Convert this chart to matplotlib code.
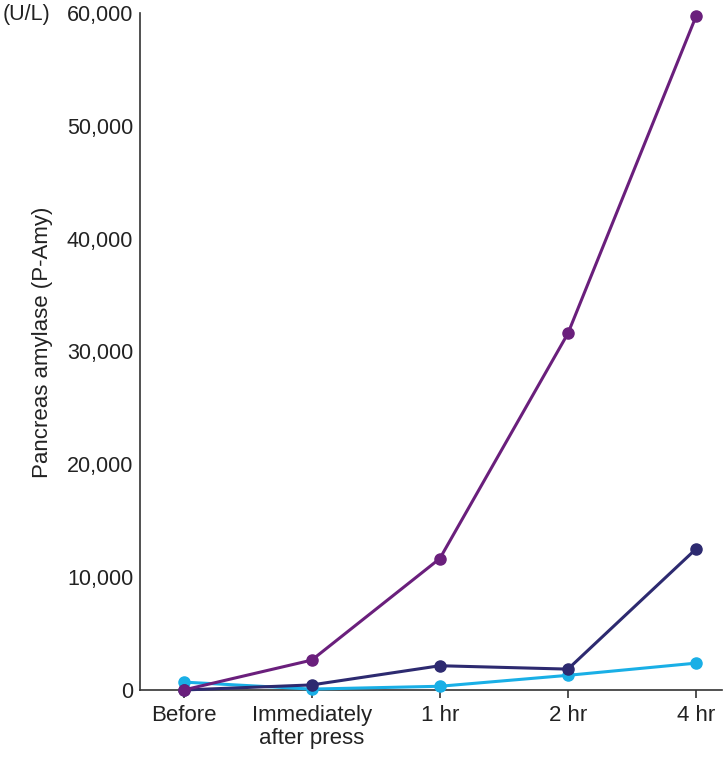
import matplotlib.pyplot as plt
import numpy as np

plt.rcParams['font.family'] = ['Liberation Sans', 'DejaVu Sans']

# Time points and amylase values (U/L)
times = ['Before', 'Immediately\nafter press', '1 hr', '2 hr', '4 hr']
purple_vals = [0, 2650, 11650, 31600, 59700]
navy_vals = [0, 450, 2150, 1850, 12500]
cyan_vals = [700, 80, 330, 1300, 2380]

yticks = [0, 10000, 20000, 30000, 40000, 50000, 60000]

fig = plt.figure(figsize=(7.26, 7.62), dpi=100)
ax = fig.add_axes([0.193, 0.0945, 0.801, 0.8885])

x = np.arange(len(times))
ax.plot(x, cyan_vals, color='#19afe6', lw=2.2, marker='o', ms=8, clip_on=False, zorder=3)
ax.plot(x, navy_vals, color='#2d2a70', lw=2.2, marker='o', ms=8, clip_on=False, zorder=4)
ax.plot(x, purple_vals, color='#6a1f7c', lw=2.2, marker='o', ms=8, clip_on=False, zorder=5)

ax.set_xlim(-0.34, 4.2)
ax.set_ylim(0, 60000)
ax.set_xticks(x)
ax.set_xticklabels(times, fontsize=16, color='#222222', linespacing=1.1)
ax.set_yticks(yticks)
ax.set_yticklabels([f'{v:,}' for v in yticks], fontsize=15.5, color='#222222')

for s in ['top', 'right']:
    ax.spines[s].set_visible(False)
for s in ['left', 'bottom']:
    ax.spines[s].set_color('#333333')
    ax.spines[s].set_linewidth(1.2)
ax.tick_params(axis='x', length=6, width=1.2, color='#333333', pad=5)
ax.tick_params(axis='y', length=0, pad=5)

ax.set_ylabel('Pancreas amylase (P-Amy)', fontsize=16, color='#222222')
ax.yaxis.set_label_coords(-0.15, 0.513)
fig.text(0.004, 0.981, '(U/L)', fontsize=15.5, color='#222222', va='center', ha='left')

fig.savefig('out.png', dpi=100)
